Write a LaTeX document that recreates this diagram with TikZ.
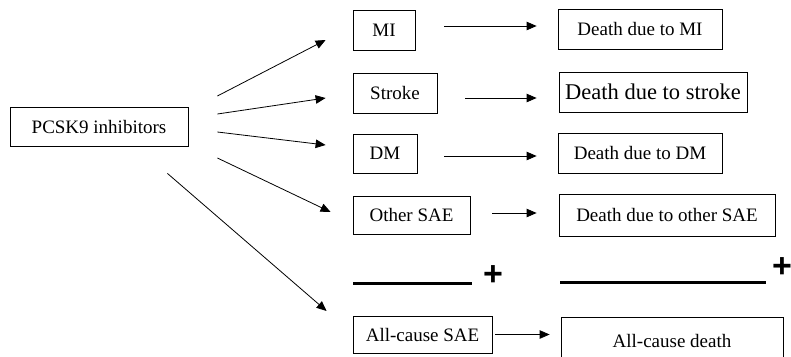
\documentclass[tikz,border=0pt]{standalone}
\usepackage{fontspec}
\setmainfont{Liberation Serif}
\setsansfont{Liberation Sans}
\usetikzlibrary{arrows.meta}

\begin{document}
\begin{tikzpicture}[x=1pt, y=-1pt, line width=0.8pt,
  box/.style = {draw, rectangle, inner sep=0pt, font=\fontsize{19}{22}\selectfont},
  arr/.style = {-{Triangle[length=10pt,width=8.5pt]}},
  rule/.style = {line width=3pt},
  plus/.style = {inner sep=0pt, font=\fontsize{34}{34}\sffamily\bfseries}]
\clip (0,0) rectangle (791,356);
\node[box, minimum width=178pt, minimum height=39pt] (pcsk) at (99,126.5) {PCSK9 inhibitors};
\node[box, minimum width=62pt, minimum height=40pt] (mi) at (384,30) {MI};
\node[box, minimum width=164pt, minimum height=40pt] (dmi) at (640,29) {Death due to MI};
\node[box, minimum width=84pt, minimum height=40pt] (stroke) at (395,93) {Stroke};
\node[box, minimum width=188pt, minimum height=40pt, font=\fontsize{22.5}{26}\selectfont] (dstroke) at (653,92) {Death due to stroke};
\node[box, minimum width=64pt, minimum height=39pt] (dm) at (385,153.5) {DM};
\node[box, minimum width=164pt, minimum height=40pt] (ddm) at (640,153) {Death due to DM};
\node[box, minimum width=117pt, minimum height=38pt] (other) at (411.5,215) {Other SAE};
\node[box, minimum width=216pt, minimum height=42pt] (dother) at (667,215) {Death due to other SAE};
\node[box, minimum width=139pt, minimum height=37pt] (all) at (422.5,334.5) {All-cause SAE};
\node[box, minimum width=222pt, minimum height=48pt] (dall) at (672,341) {All-cause death};
% fan out of the inhibitors
\draw[arr] ([xshift=29pt,yshift=30.5pt]pcsk.east) -- ([xshift=-27pt,yshift=-10pt]mi.west);
\draw[arr] ([xshift=29pt,yshift=12.5pt]pcsk.east) -- ([xshift=-27pt,yshift=-5pt]stroke.west);
\draw[arr] ([xshift=29pt,yshift=-5.5pt]pcsk.east) -- ([xshift=-27pt,yshift=8.5pt]dm.west);
\draw[arr] ([xshift=29pt,yshift=-31.5pt]pcsk.east) -- ([xshift=-22pt,yshift=3pt]other.west);
\draw[arr] ([xshift=-21pt,yshift=-27pt]pcsk.south east) -- ([xshift=-26pt,yshift=23.5pt]all.west);
% event to death
\draw[arr] ([xshift=29pt,yshift=4pt]mi.east) -- ([xshift=-21pt,yshift=4pt]mi.east -| dmi.west);
\draw[arr] ([xshift=28pt,yshift=-5pt]stroke.east) -- ([xshift=-22pt,yshift=-5pt]stroke.east -| dstroke.west);
\draw[arr] ([xshift=27pt,yshift=-2.5pt]dm.east) -- ([xshift=-21pt,yshift=-2.5pt]dm.east -| ddm.west);
\draw[arr] ([xshift=22pt,yshift=2pt]other.east) -- ([xshift=-22pt,yshift=2pt]other.east -| dother.west);
\draw[arr] ([xshift=3pt]all.east) -- ([xshift=-11pt]all.east -| dall.west);
% sums
\draw[rule] (353,283) -- (472,283);
\draw[rule] (560,282) -- (766,282);
\node[plus] (plusa) at (493,275.5) {+};
\node[plus] (plusb) at (782,268) {+};
\end{tikzpicture}
\end{document}
